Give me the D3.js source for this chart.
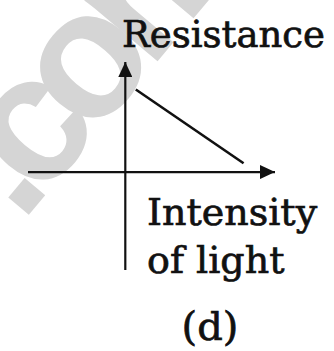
<!DOCTYPE html>
<html>
<head>
<meta charset="utf-8">
<script src="https://cdn.jsdelivr.net/npm/d3@7"></script>
<style>
  html, body { margin: 0; padding: 0; background: #fff; }
  svg { display: block; }
</style>
</head>
<body>
<svg id="chart" width="334" height="351"></svg>
<script>
// light intensity vs resistance (LDR), arbitrary units
const intensity = [0.07, 0.79];
const resistance = [0.75, 0.08];
const xExtent = [-0.65, 1];
const yExtent = [-0.89, 1];
const yLabel = ["Resistance"];
const xLabel = ["Intensity", "of light"];
const caption = "(d)";
const watermark = ".com";

const svg = d3.select("#chart");

let x = d3.scaleLinear()
    .domain(xExtent)
    .range([28, 275]);

let y = d3.scaleLinear()
    .domain(yExtent)
    .range([270, 62]);

svg.append("defs")
    .append("marker")
    .attr("id", "arrow")
    .attr("viewBox", "0 0 15 14")
    .attr("refX", 15)
    .attr("refY", 7)
    .attr("markerUnits", "userSpaceOnUse")
    .attr("markerWidth", 15)
    .attr("markerHeight", 14)
    .attr("orient", "auto")
    .append("path")
    .attr("d", "M0,0L15,7L0,14Z")
    .attr("fill", "#111");

// watermark
svg.append("text")
    .attr("transform", "translate(21,224) rotate(-50)")
    .attr("font-family", "Liberation Sans, Arial, sans-serif")
    .attr("font-weight", "bold")
    .attr("font-size", 180)
    .attr("letter-spacing", -20)
    .attr("fill", "#d5d5d5")
    .text(watermark);

let xAxis = svg.append("g")
    .attr("transform", `translate(0,${y(0)})`)
    .call(d3.axisBottom(x).tickValues([]).tickSizeOuter(0));

let yAxis = svg.append("g")
    .attr("transform", `translate(${x(0)},0)`)
    .call(d3.axisLeft(y).tickValues([]).tickSizeOuter(0));

xAxis.select(".domain")
    .attr("d", `M${x(xExtent[0])},0H${x(xExtent[1])}`)
    .attr("stroke", "#111")
    .attr("stroke-width", 2.2)
    .attr("marker-end", "url(#arrow)");

yAxis.select(".domain")
    .attr("d", `M0,${y(yExtent[0])}V${y(yExtent[1])}`)
    .attr("stroke", "#111")
    .attr("stroke-width", 2.2)
    .attr("marker-end", "url(#arrow)");

let line = d3.line()
    .x(d => x(d[0]))
    .y(d => y(d[1]));

svg.append("path")
    .datum(d3.zip(intensity, resistance))
    .attr("d", line)
    .attr("fill", "none")
    .attr("stroke", "#111")
    .attr("stroke-width", 2.6);

let labels = svg.append("g")
    .attr("font-family", "DejaVu Serif, serif")
    .attr("fill", "#111")
    .attr("stroke", "#111")
    .attr("stroke-width", 0.7);

labels.append("text")
    .attr("x", 122)
    .attr("y", 47)
    .attr("font-size", 37)
    .text(yLabel[0]);

labels.selectAll("text.xlab")
    .data(xLabel)
    .enter()
    .append("text")
    .attr("class", "xlab")
    .attr("x", 147)
    .attr("y", (d, i) => 225 + i * 48)
    .attr("font-size", 38)
    .text(d => d);

labels.append("text")
    .attr("x", 210)
    .attr("y", 340)
    .attr("text-anchor", "middle")
    .attr("font-size", 40)
    .text(caption);
</script>
</body>
</html>
